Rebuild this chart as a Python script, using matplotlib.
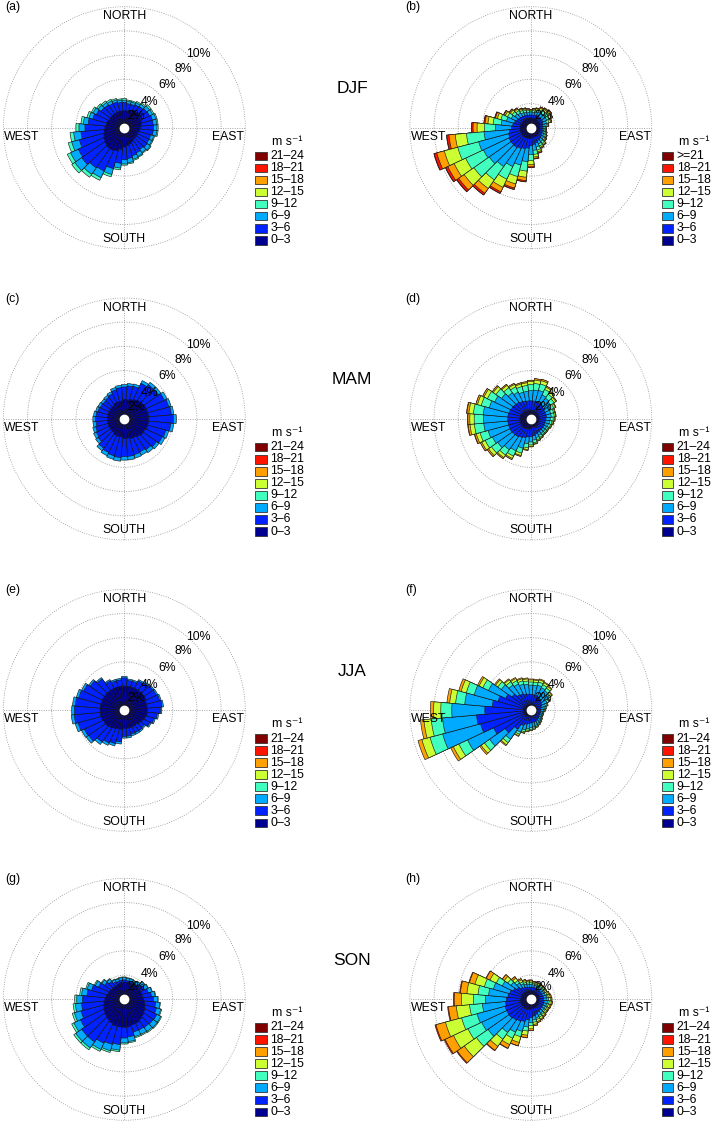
import numpy as np
import matplotlib
matplotlib.use('Agg')
import matplotlib.pyplot as plt
from matplotlib.patches import Rectangle

plt.rcParams['font.family'] = ['Liberation Sans', 'DejaVu Sans']

# direction bins (deg, clockwise from north), 10 deg sectors
directions = np.arange(0, 360, 10)
speed_labels = ['0–3', '3–6', '6–9', '9–12', '12–15', '15–18', '18–21', '21–24']
class_colors = ['#000090', '#0022ff', '#00aaff', '#40ffbf',
                '#ccff33', '#ffa000', '#ff1400', '#800000']
seasons = ['DJF', 'MAM', 'JJA', 'SON']
ring_values = [2, 4, 6, 8, 10]

# cumulative frequency (%) at the outer edge of each speed class
a_edges = [
    [1.4,1.4,1.5,1.6,1.6,1.6,1.5,1.5,1.4,1.3,1.3,1.2,1.2,1.2,1.2,1.3,1.4,1.5,1.6,1.8,2.0,2.1,2.1,2.0,1.9,1.8,1.7,1.6,1.5,1.5,1.4,1.4,1.4,1.4,1.4,1.4],
    [2.1,2.0,2.0,2.1,2.15,2.25,2.3,2.4,2.4,2.4,2.4,2.25,2.25,2.3,2.2,2.3,2.4,2.55,2.65,2.95,3.5,3.95,4.05,4.3,4.2,3.85,3.6,3.25,3.0,2.7,2.55,2.35,2.3,2.2,2.2,2.1],
    [2.28,2.2,2.2,2.28,2.38,2.55,2.58,2.7,2.7,2.7,2.7,2.52,2.52,2.62,2.52,2.62,2.7,2.9,3.0,3.35,4.0,4.55,4.7,5.0,4.9,4.5,4.2,3.75,3.4,3.02,2.85,2.65,2.55,2.45,2.38,2.28],
    [2.4,2.3,2.3,2.4,2.5,2.7,2.7,2.8,2.8,2.8,2.8,2.6,2.6,2.7,2.6,2.7,2.8,3.0,3.1,3.5,4.2,4.8,5.0,5.3,5.2,4.8,4.5,4.0,3.6,3.2,3.0,2.8,2.7,2.6,2.5,2.4],
]
b_edges = [
    [0.8,0.8,0.8,0.8,0.8,0.8,0.8,0.8,0.75,0.75,0.75,0.75,0.75,0.8,0.8,0.8,0.8,0.85,0.85,0.9,0.9,0.9,0.9,0.9,0.9,0.9,0.9,0.9,0.85,0.85,0.8,0.8,0.8,0.8,0.8,0.8],
    [1.05,1.05,1.1,1.1,1.1,1.1,1.1,1.05,1.0,0.95,0.95,1.0,1.0,1.1,1.15,1.2,1.3,1.4,1.5,1.7,1.8,1.9,2.0,2.0,2.0,1.9,1.8,1.6,1.5,1.4,1.3,1.2,1.15,1.1,1.1,1.05],
    [1.23,1.27,1.34,1.42,1.46,1.5,1.46,1.35,1.2,1.09,1.09,1.16,1.2,1.3,1.41,1.48,1.66,1.88,2.22,2.82,3.2,3.54,3.92,4.2,4.32,4.46,3.88,2.92,2.46,2.08,1.78,1.6,1.49,1.38,1.34,1.27],
    [1.36,1.42,1.51,1.64,1.71,1.78,1.71,1.56,1.34,1.19,1.19,1.27,1.34,1.44,1.59,1.68,1.91,2.22,2.72,3.6,4.18,4.69,5.26,5.74,5.94,6.25,5.34,3.84,3.13,2.56,2.12,1.88,1.73,1.58,1.51,1.42],
    [1.44,1.52,1.62,1.79,1.87,1.96,1.87,1.7,1.43,1.25,1.25,1.34,1.43,1.53,1.71,1.8,2.07,2.43,3.05,4.11,4.81,5.43,6.13,6.73,6.99,7.4,6.27,4.44,3.56,2.86,2.33,2.06,1.88,1.7,1.62,1.52],
    [1.48,1.58,1.68,1.87,1.96,2.06,1.96,1.77,1.48,1.29,1.29,1.38,1.48,1.58,1.77,1.87,2.16,2.55,3.23,4.39,5.16,5.84,6.61,7.28,7.57,8.04,6.79,4.77,3.8,3.03,2.45,2.16,1.97,1.77,1.68,1.58],
    [1.5,1.6,1.7,1.9,2.0,2.1,2.0,1.8,1.5,1.3,1.3,1.4,1.5,1.6,1.8,1.9,2.2,2.6,3.3,4.49,5.28,5.98,6.78,7.47,7.77,8.27,6.97,4.88,3.89,3.09,2.49,2.2,2.0,1.8,1.7,1.6],
    [1.5,1.6,1.7,1.9,2.0,2.1,2.0,1.8,1.5,1.3,1.3,1.4,1.5,1.6,1.8,1.9,2.2,2.6,3.3,4.5,5.3,6.0,6.8,7.5,7.8,8.3,7.0,4.9,3.9,3.1,2.5,2.2,2.0,1.8,1.7,1.6],
]
c_edges = [
    [1.6,1.6,1.7,1.8,1.9,1.9,2.0,2.0,2.0,2.0,2.0,2.0,1.9,1.9,1.8,1.7,1.7,1.6,1.6,1.5,1.5,1.5,1.4,1.4,1.4,1.4,1.4,1.4,1.4,1.4,1.4,1.4,1.4,1.5,1.5,1.5],
    [2.65,2.75,2.8,3.25,3.45,3.45,3.65,3.8,3.9,4.05,3.85,3.55,3.45,3.25,3.1,3.0,3.05,3.1,3.1,3.2,3.15,3.05,2.95,2.65,2.55,2.45,2.35,2.4,2.35,2.25,2.2,2.15,2.2,2.3,2.5,2.6],
    [2.85,2.95,3.0,3.5,3.7,3.7,3.9,4.0,4.1,4.3,4.1,3.8,3.7,3.5,3.4,3.3,3.35,3.4,3.4,3.5,3.45,3.35,3.2,2.9,2.8,2.7,2.6,2.6,2.55,2.45,2.4,2.35,2.4,2.5,2.7,2.8],
]
d_edges = [
    [0.7,0.7,0.7,0.7,0.7,0.7,0.7,0.7,0.7,0.7,0.7,0.7,0.7,0.7,0.7,0.7,0.7,0.7,0.75,0.8,0.8,0.85,0.9,0.9,0.9,0.9,0.9,0.9,0.9,0.9,0.85,0.8,0.8,0.75,0.7,0.7],
    [1.5,1.5,1.5,1.45,1.4,1.35,1.3,1.3,1.3,1.25,1.2,1.2,1.2,1.2,1.2,1.25,1.3,1.4,1.45,1.5,1.6,1.7,1.8,1.85,1.9,1.9,1.9,1.9,1.9,1.85,1.8,1.75,1.7,1.6,1.55,1.5],
    [2.35,2.4,2.45,2.2,2.1,2.0,1.8,1.7,1.7,1.6,1.55,1.5,1.45,1.45,1.45,1.5,1.6,1.75,1.9,2.05,2.5,2.9,3.1,3.35,3.5,3.65,3.9,3.9,3.95,3.55,3.3,2.95,2.65,2.45,2.3,2.3],
    [2.85,2.95,3.0,2.7,2.5,2.35,2.1,1.95,1.95,1.85,1.75,1.68,1.6,1.6,1.6,1.68,1.78,1.96,2.14,2.38,2.92,3.38,3.64,3.98,4.16,4.34,4.68,4.68,4.76,4.24,3.96,3.52,3.16,2.93,2.78,2.78],
    [3.09,3.23,3.28,2.91,2.71,2.52,2.24,2.05,2.05,1.95,1.85,1.76,1.67,1.67,1.67,1.76,1.86,2.06,2.25,2.53,3.12,3.6,3.89,4.27,4.47,4.66,5.04,5.04,5.14,4.56,4.27,3.79,3.4,3.15,3.0,3.0],
    [3.2,3.35,3.4,3.0,2.8,2.6,2.3,2.1,2.1,2.0,1.9,1.8,1.7,1.7,1.7,1.8,1.9,2.1,2.3,2.6,3.2,3.7,4.0,4.4,4.6,4.8,5.2,5.2,5.3,4.7,4.4,3.9,3.5,3.25,3.1,3.1],
    [3.2,3.35,3.4,3.0,2.8,2.6,2.3,2.1,2.1,2.0,1.9,1.8,1.7,1.7,1.7,1.8,1.9,2.1,2.3,2.6,3.2,3.7,4.0,4.4,4.6,4.84,5.24,5.24,5.34,4.7,4.4,3.9,3.5,3.25,3.1,3.1],
]
e_edges = [
    [2.0,2.0,2.0,2.0,2.0,2.0,2.0,1.9,1.9,1.9,1.9,1.8,1.7,1.6,1.5,1.5,1.5,1.5,1.5,1.6,1.6,1.7,1.8,1.9,1.9,2.0,2.0,2.0,2.0,2.0,2.0,2.0,2.0,2.0,2.0,2.0],
    [2.68,2.48,2.48,2.68,2.78,2.88,2.93,3.03,3.13,2.98,2.73,2.53,2.33,2.03,2.07,2.05,2.05,2.15,2.15,2.62,2.85,2.98,3.2,3.6,3.65,3.95,4.15,4.12,4.08,3.9,3.72,3.45,3.17,2.68,2.53,2.53],
    [2.8,2.6,2.6,2.8,2.9,3.0,3.05,3.15,3.25,3.1,2.85,2.65,2.45,2.15,2.2,2.2,2.2,2.3,2.3,2.8,3.05,3.2,3.45,3.85,3.9,4.2,4.4,4.35,4.3,4.1,3.9,3.6,3.3,2.8,2.65,2.65],
]
f_edges = [
    [0.5,0.5,0.5,0.5,0.5,0.5,0.5,0.5,0.5,0.5,0.5,0.5,0.5,0.5,0.5,0.5,0.5,0.5,0.5,0.5,0.5,0.5,0.55,0.6,0.6,0.6,0.6,0.6,0.6,0.6,0.55,0.55,0.5,0.5,0.5,0.5],
    [1.3,1.3,1.3,1.25,1.2,1.1,1.0,0.9,0.85,0.8,0.8,0.8,0.8,0.85,0.9,0.95,1.0,1.0,1.05,1.1,1.2,1.4,1.9,2.6,3.4,4.3,4.5,3.8,3.2,2.8,2.3,1.9,1.6,1.5,1.4,1.35],
    [2.08,2.08,2.14,2.06,1.98,1.76,1.48,1.26,1.12,1.04,0.98,0.98,0.98,1.06,1.14,1.22,1.3,1.36,1.44,1.52,1.68,2.0,2.92,4.16,5.77,7.54,7.32,6.53,5.48,4.84,3.86,2.98,2.56,2.4,2.24,2.16],
    [2.34,2.34,2.42,2.33,2.24,1.98,1.64,1.38,1.21,1.12,1.04,1.04,1.04,1.13,1.22,1.31,1.4,1.48,1.57,1.66,1.84,2.2,3.26,4.68,6.56,8.62,8.26,7.44,6.24,5.52,4.38,3.34,2.88,2.7,2.52,2.43],
    [2.51,2.51,2.6,2.51,2.41,2.12,1.74,1.46,1.27,1.17,1.08,1.08,1.08,1.18,1.27,1.37,1.47,1.56,1.65,1.75,1.94,2.33,3.48,5.02,7.07,9.32,8.87,8.03,6.73,5.96,4.72,3.57,3.09,2.9,2.7,2.61],
    [2.59,2.59,2.69,2.59,2.49,2.19,1.79,1.49,1.3,1.2,1.1,1.1,1.1,1.2,1.3,1.4,1.5,1.6,1.69,1.79,1.99,2.39,3.58,5.17,7.31,9.65,9.15,8.3,6.96,6.17,4.87,3.68,3.18,2.99,2.79,2.69],
]
g_edges = [
    [1.4,1.4,1.4,1.4,1.4,1.45,1.5,1.5,1.5,1.6,1.7,1.8,1.9,2.0,2.1,2.2,2.2,2.3,2.3,2.3,2.3,2.2,2.1,2.0,1.9,1.8,1.7,1.6,1.5,1.4,1.4,1.3,1.3,1.3,1.35,1.4],
    [1.6,1.55,1.55,1.5,1.55,1.75,1.85,2.05,2.25,2.4,2.6,2.75,2.95,2.9,2.85,2.8,2.8,3.1,3.2,3.75,3.85,4.0,4.3,4.3,4.0,3.7,3.55,3.45,3.1,2.8,2.35,2.0,1.8,1.6,1.55,1.6],
    [1.8,1.75,1.75,1.7,1.8,2.05,2.15,2.35,2.55,2.75,2.95,3.12,3.32,3.32,3.25,3.2,3.2,3.5,3.6,4.22,4.4,4.57,4.9,4.9,4.6,4.27,4.07,3.93,3.55,3.18,2.65,2.27,2.03,1.8,1.75,1.8],
    [1.85,1.8,1.8,1.75,1.85,2.1,2.2,2.4,2.6,2.8,3.0,3.2,3.4,3.4,3.35,3.3,3.3,3.6,3.7,4.35,4.55,4.75,5.1,5.1,4.8,4.45,4.25,4.1,3.7,3.3,2.75,2.35,2.1,1.85,1.8,1.85],
]
h_edges = [
    [0.7,0.7,0.7,0.7,0.7,0.7,0.7,0.7,0.7,0.7,0.7,0.7,0.7,0.7,0.7,0.75,0.75,0.75,0.8,0.8,0.85,0.85,0.85,0.85,0.85,0.85,0.85,0.85,0.8,0.8,0.8,0.75,0.75,0.7,0.7,0.7],
    [1.0,1.0,1.0,1.0,1.0,1.0,1.0,1.0,1.05,1.05,1.1,1.1,1.1,1.1,1.15,1.2,1.3,1.4,1.5,1.7,1.9,2.0,2.1,2.2,2.2,2.2,2.1,2.0,1.9,1.8,1.6,1.4,1.2,1.1,1.05,1.0],
    [1.24,1.2,1.2,1.2,1.2,1.2,1.2,1.24,1.31,1.33,1.38,1.36,1.34,1.34,1.41,1.48,1.58,1.72,1.94,2.3,2.74,3.0,3.34,4.32,4.48,4.6,4.02,3.76,3.5,3.2,2.6,2.0,1.64,1.42,1.31,1.24],
    [1.37,1.31,1.31,1.31,1.31,1.31,1.31,1.37,1.45,1.48,1.53,1.5,1.47,1.47,1.55,1.63,1.73,1.9,2.18,2.63,3.2,3.55,4.02,5.49,5.73,5.92,5.08,4.73,4.38,3.97,3.15,2.33,1.88,1.6,1.45,1.37],
    [1.51,1.43,1.43,1.43,1.43,1.43,1.43,1.51,1.6,1.65,1.7,1.65,1.61,1.61,1.7,1.8,1.9,2.08,2.44,2.98,3.69,4.13,4.74,6.71,7.05,7.3,6.18,5.74,5.3,4.78,3.73,2.68,2.14,1.78,1.6,1.51],
    [1.59,1.49,1.49,1.49,1.49,1.49,1.49,1.59,1.69,1.74,1.79,1.74,1.69,1.69,1.79,1.89,1.99,2.19,2.58,3.18,3.97,4.46,5.15,7.42,7.81,8.11,6.83,6.33,5.84,5.25,4.06,2.88,2.28,1.89,1.69,1.59],
    [1.6,1.5,1.5,1.5,1.5,1.5,1.5,1.6,1.7,1.75,1.8,1.75,1.7,1.7,1.8,1.9,2.0,2.2,2.6,3.2,4.0,4.5,5.2,7.5,7.9,8.2,6.9,6.4,5.9,5.3,4.1,2.9,2.3,1.9,1.7,1.6],
]

# layout (pixels, origin top-left)
W, H = 714, 1122
RMAX = 10.06                 # a little room so the 10% ring is not clipped
R_PX = 121 * RMAX / 10
col_x = [124.3, 530.8]
row_y = [127.7, 419.0, 710.3, 999.3]
FS = 8.8
grid_kw = dict(color='0.6', linestyle=(0, (1, 1.6)), linewidth=0.65)


def fx(x):
    return x / W


def fy(y):
    return 1 - y / H


def draw_rose(ax, edges):
    theta = np.deg2rad(directions)
    width = np.deg2rad(10)
    # outer classes first, inner ones on top
    for k in range(len(edges) - 1, -1, -1):
        ax.bar(theta, edges[k], width=width, color=class_colors[k],
               edgecolor='#1a1a1a', linewidth=0.45, zorder=10 - k)
    ax.plot(0, 0, 'o', ms=6, color='white', zorder=15)


def style_axes(ax):
    ax.set_theta_zero_location('N')
    ax.set_theta_direction(-1)
    ax.set_ylim(0, RMAX)
    ax.set_rgrids(ring_values, labels=[])
    ax.set_thetagrids([0, 90, 180, 270], labels=[])
    ax.grid(True, **grid_kw)
    ax.spines['polar'].set_visible(False)
    ax.set_axisbelow(True)
    ax.patch.set_alpha(0)
    s = 2 * RMAX
    # percent labels along the NE diagonal
    for val, rpos in zip(ring_values, [1.4, 3.0, 5.0, 6.9, 8.6]):
        x = rpos * np.sin(np.deg2rad(45))
        ax.text(0.5 + x / s, 0.5 + x / s, '%d%%' % val, transform=ax.transAxes,
                ha='center', va='center', fontsize=FS, zorder=20)
    for name, x, y in [('NORTH', 0, 9.2), ('SOUTH', 0, -9.2),
                       ('EAST', 8.6, -0.75), ('WEST', -8.45, -0.75)]:
        ax.text(0.5 + x / s, 0.5 + y / s, name, transform=ax.transAxes,
                ha='center', va='center', fontsize=FS, zorder=20)


def draw_legend(fig, cx, cy, top_label):
    fig.text(fx(cx + 163), fy(cy + 14), 'm s⁻¹', ha='center', va='center', fontsize=FS)
    labels = list(speed_labels)
    labels[-1] = top_label
    for i in range(8):
        k = 7 - i
        yc = cy + 28.2 + 12.05 * i
        fig.add_artist(Rectangle((fx(cx + 131), fy(yc + 4.3)), 11.5 / W, 8.6 / H,
                                 transform=fig.transFigure, facecolor=class_colors[k],
                                 edgecolor='#333333', linewidth=0.6))
        fig.text(fx(cx + 146), fy(yc), labels[k], ha='left', va='center', fontsize=FS)


fig = plt.figure(figsize=(W / 100, H / 100), dpi=100)

panels = [('(a)', a_edges), ('(b)', b_edges), ('(c)', c_edges), ('(d)', d_edges),
          ('(e)', e_edges), ('(f)', f_edges), ('(g)', g_edges), ('(h)', h_edges)]

for i, (tag, edges) in enumerate(panels):
    row, col = divmod(i, 2)
    cx, cy = col_x[col], row_y[row]
    ax = fig.add_axes([fx(cx - R_PX), fy(cy + R_PX), 2 * R_PX / W, 2 * R_PX / H],
                      projection='polar')
    style_axes(ax)
    draw_rose(ax, edges)
    fig.text(fx(cx - (119 if col == 0 else 126)), fy(cy - 120.4), tag,
             ha='left', va='center', fontsize=FS)
    draw_legend(fig, cx, cy, '>=21' if tag == '(b)' else '21–24')

for row, season in enumerate(seasons):
    fig.text(fx(352), fy(row_y[row] - 39), season, ha='center', va='center', fontsize=12.5)

fig.savefig('out.png', dpi=100)
